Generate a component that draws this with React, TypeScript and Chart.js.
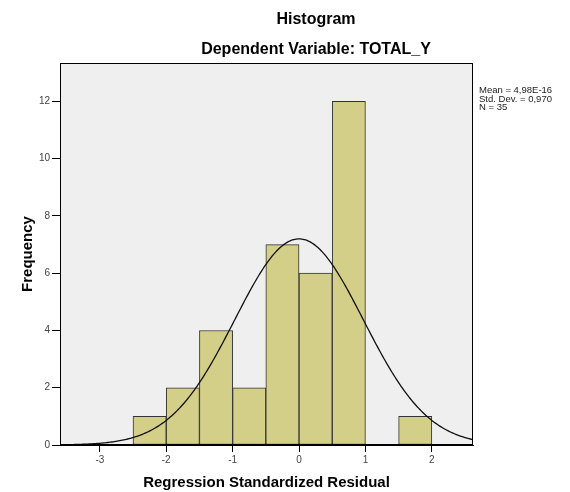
import React, { useEffect, useRef } from 'react';
import { Chart, registerables } from 'chart.js';

Chart.register(...registerables);

// ---- data ----
const binCenters = [-2.25, -1.75, -1.25, -0.75, -0.25, 0.25, 0.75, 1.25, 1.75];
const frequencies = [1, 2, 4, 2, 7, 6, 12, 0, 1];
const xTickValues = [-3, -2, -1, 0, 1, 2];
const yTickValues = [0, 2, 4, 6, 8, 10, 12];
const statsLines = ['Mean = 4,98E-16', 'Std. Dev. = 0,970', 'N = 35'];
const MEAN = 4.98e-16;
const STD_DEV = 0.97;
const N = 35;
const BIN_WIDTH = 0.5;
const X_MIN = -3.6;
const X_MAX = 2.62;
const Y_MAX = 13.34;
const TITLE = 'Histogram';
const SUBTITLE = 'Dependent Variable: TOTAL_Y';
const X_TITLE = 'Regression Standardized Residual';
const Y_TITLE = 'Frequency';

const FONT = '"Liberation Sans", Arial, Helvetica, sans-serif';

// fitted normal curve (from Mean, Std. Dev., N and bin width)
const curveXs: number[] = [];
for (let i = 0; i <= 311; i++) curveXs.push(X_MIN + (i * (X_MAX - X_MIN)) / 311);
const normalCurve = curveXs.map((x) => ({
  x,
  y:
    (N * BIN_WIDTH) / (STD_DEV * Math.sqrt(2 * Math.PI)) *
    Math.exp(-((x - MEAN) ** 2) / (2 * STD_DEV * STD_DEV)),
}));

const decorPlugin = {
  id: 'decor',
  beforeDraw(chart: any) {
    const { ctx, chartArea } = chart;
    ctx.save();
    ctx.fillStyle = '#ffffff';
    ctx.fillRect(0, 0, chart.width, chart.height);
    ctx.fillStyle = '#efefef';
    ctx.fillRect(chartArea.left, chartArea.top, chartArea.right - chartArea.left, chartArea.bottom - chartArea.top);
    ctx.restore();
  },
  afterDraw(chart: any) {
    const { ctx, chartArea } = chart;
    ctx.save();
    ctx.strokeStyle = '#000000';
    ctx.lineWidth = 1;
    ctx.strokeRect(
      Math.round(chartArea.left) + 0.5,
      Math.round(chartArea.top) + 0.5,
      Math.round(chartArea.right - chartArea.left) - 1,
      Math.round(chartArea.bottom - chartArea.top) - 1
    );
    // titles
    ctx.fillStyle = '#000000';
    ctx.textAlign = 'center';
    ctx.textBaseline = 'middle';
    ctx.font = `bold 16px ${FONT}`;
    ctx.fillText(TITLE, 316, 20);
    ctx.fillText(SUBTITLE, 316, 50);
    // stats
    ctx.font = `9.5px ${FONT}`;
    ctx.textAlign = 'left';
    ctx.fillStyle = '#222222';
    statsLines.forEach((line, i) => {
      ctx.fillText(line, chartArea.right + 6, chartArea.top + 27.5 + i * 8.5);
    });
    ctx.restore();
  },
};

export default function App() {
  const canvasRef = useRef<HTMLCanvasElement | null>(null);

  useEffect(() => {
    const canvas = canvasRef.current;
    if (!canvas) return;
    const chart = new Chart(canvas, {
      type: 'bar',
      data: {
        datasets: [
          {
            type: 'line',
            data: normalCurve,
            borderColor: '#111111',
            borderWidth: 1.3,
            pointRadius: 0,
            tension: 0,
            order: 0,
          } as any,
          {
            type: 'bar',
            data: binCenters.map((x, i) => ({ x, y: frequencies[i] })),
            backgroundColor: 'rgb(212, 207, 136)',
            borderColor: '#333333',
            borderWidth: 1,
            borderSkipped: false,
            barPercentage: 1,
            categoryPercentage: 1,
            order: 1,
          } as any,
        ],
      },
      options: {
        responsive: false,
        animation: false,
        layout: { padding: { left: 15, right: 97, top: 63, bottom: 0 } },
        plugins: {
          legend: { display: false },
          tooltip: { enabled: false },
          title: { display: false },
        },
        scales: {
          x: {
            type: 'linear',
            min: X_MIN,
            max: X_MAX,
            offset: false,
            grid: {
              offset: false,
              drawOnChartArea: false,
              drawTicks: true,
              tickLength: 7,
              color: '#000000',
            },
            border: { display: true, color: '#000000' },
            ticks: {
              includeBounds: false,
              padding: 2,
              color: '#444444',
              font: { family: FONT, size: 10 },
              maxRotation: 0,
            },
            afterBuildTicks: (s: any) => {
              s.ticks = xTickValues.map((v) => ({ value: v }));
            },
            afterFit: (s: any) => {
              s.height = 47;
            },
            title: {
              display: true,
              text: X_TITLE,
              color: '#000000',
              font: { family: FONT, size: 15, weight: 'bold' },
              padding: { top: 0, bottom: 0 },
            },
          } as any,
          y: {
            type: 'linear',
            min: 0,
            max: Y_MAX,
            grid: {
              drawOnChartArea: false,
              drawTicks: true,
              tickLength: 8,
              color: '#000000',
            },
            border: { display: true, color: '#000000' },
            ticks: {
              includeBounds: false,
              padding: 2,
              color: '#444444',
              font: { family: FONT, size: 10 },
            },
            afterBuildTicks: (s: any) => {
              s.ticks = yTickValues.map((v) => ({ value: v }));
            },
            afterFit: (s: any) => {
              s.width = 45;
            },
            title: {
              display: true,
              text: Y_TITLE,
              color: '#000000',
              font: { family: FONT, size: 15, weight: 'bold' },
              padding: { top: 4, bottom: 4 },
            },
          } as any,
        },
      },
      plugins: [decorPlugin],
    });
    return () => chart.destroy();
  }, []);

  return (
    <div style={{ position: 'fixed', left: 0, top: 0, width: 570, height: 492, background: '#ffffff' }}>
      <canvas ref={canvasRef} width={570} height={492} style={{ width: 570, height: 492, display: 'block' }} />
    </div>
  );
}
